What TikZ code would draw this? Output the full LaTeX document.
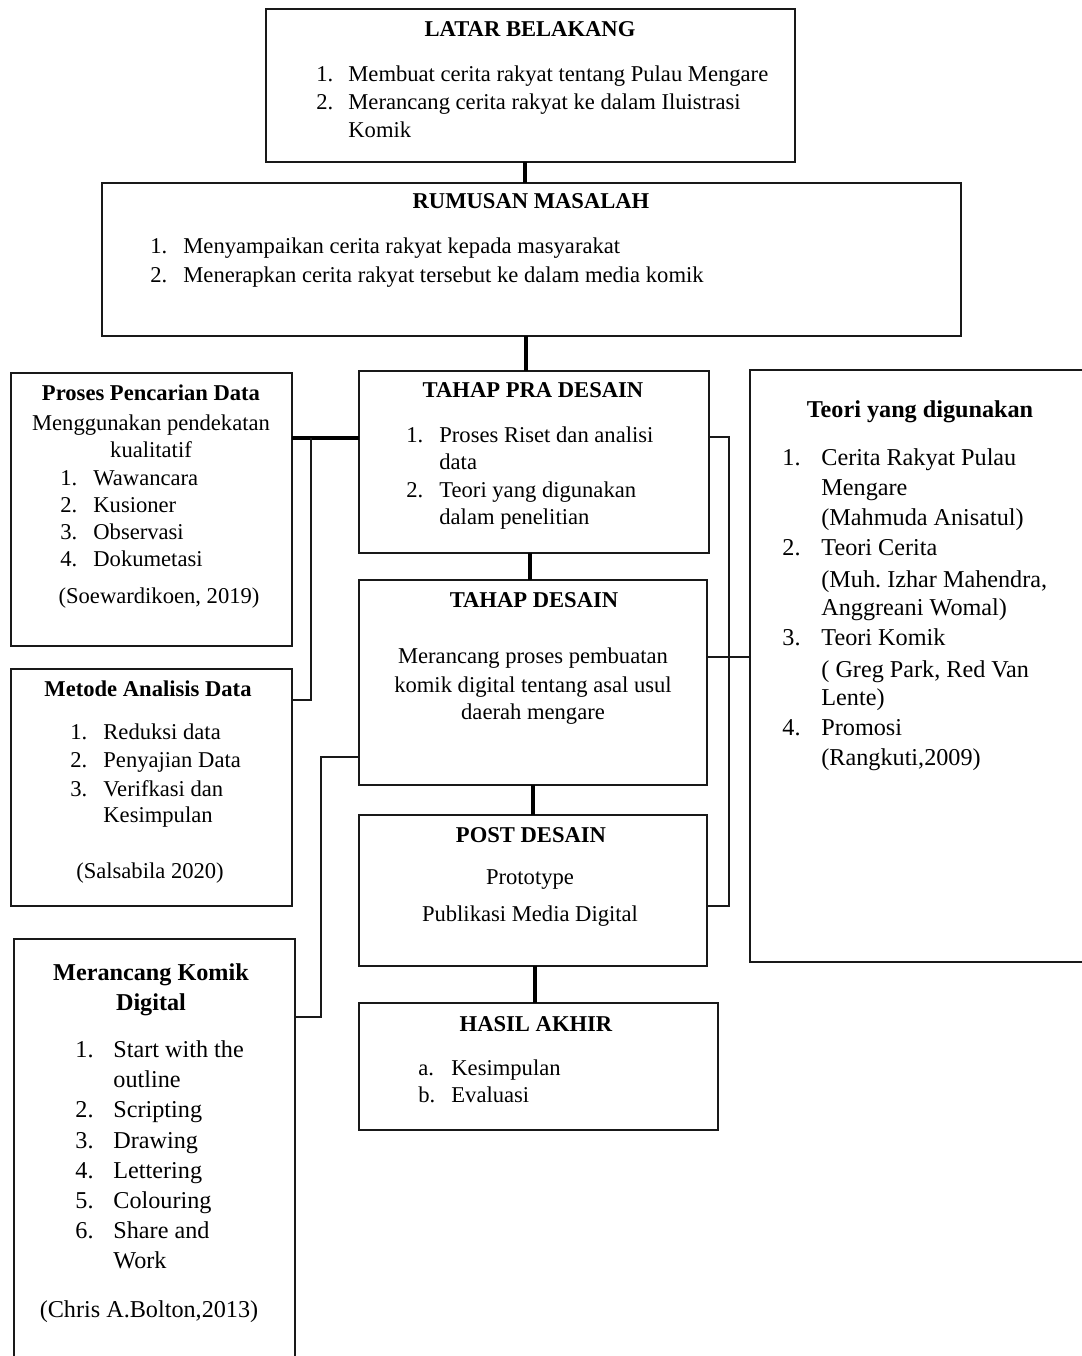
\documentclass[tikz,border=0pt]{standalone}
\usepackage{fontspec}
\setmainfont{Liberation Serif}
\usetikzlibrary{calc}
\frenchspacing
\newcommand\fa{\fontsize{11.3}{13.5}\selectfont}
\newcommand\fb{\fontsize{12.1}{14.5}\selectfont}
\newcommand\drawbox[5]{\node[box, minimum width={(#4-#2)*0.5pt}, minimum height={(#5-#3)*0.5pt}] (#1) at ({(#2+#4)/2},{(#3+#5)/2}) {};}
\begin{document}
\begin{tikzpicture}[x=0.5pt, y=-0.5pt,
  box/.style={draw=black!90, line width=1pt, rectangle, inner sep=0pt, outer sep=0pt},
  conn/.style={draw=black!90, line width=1pt},
  thickconn/.style={draw=black, line width=1.6pt},
  tl/.style={anchor=base west, inner sep=0pt, font=\fa},
  tc/.style={anchor=base, inner sep=0pt, font=\fa},
  th/.style={anchor=base, inner sep=0pt, font=\fa\bfseries},
  tlb/.style={anchor=base west, inner sep=0pt, font=\fb},
  tcb/.style={anchor=base, inner sep=0pt, font=\fb},
  thb/.style={anchor=base, inner sep=0pt, font=\fb\bfseries}]

\useasboundingbox[fill=white] (0,0) rectangle (1082,1356);

% boxes
\drawbox{latar}{266}{9}{795}{162}
\drawbox{rumusan}{102}{183}{961}{336}
\drawbox{proses}{11}{373}{292}{646}
\drawbox{pra}{359}{371}{709}{553}
\drawbox{teori}{750}{370}{1100}{962}
\drawbox{desain}{359}{580}{707}{785}
\drawbox{metode}{11}{669}{292}{906}
\drawbox{post}{359}{815}{707}{966}
\drawbox{merancang}{14}{939}{295}{1370}
\drawbox{hasil}{359}{1003}{718}{1130}

% connectors
\coordinate (xa) at (525,0);
\coordinate (xb) at (526,0);
\coordinate (xc) at (530,0);
\coordinate (xd) at (533,0);
\coordinate (xe) at (535,0);
\draw[thickconn] (latar.south -| xa) -- (rumusan.north -| xa);
\draw[thickconn] (rumusan.south -| xb) -- (pra.north -| xb);
\draw[thickconn] (pra.south -| xc) -- (desain.north -| xc);
\draw[thickconn] (desain.south -| xd) -- (post.north -| xd);
\draw[thickconn] (post.south -| xe) -- (hasil.north -| xe);

\coordinate (ja) at (311,438);
\coordinate (jb) at (311,700);
\draw[thickconn] (proses.east |- ja) -- (pra.west |- ja);
\draw[conn] (ja) -- (jb) -- (metode.east |- jb);

\coordinate (ra) at (729,437);
\coordinate (rb) at (729,906);
\coordinate (rc) at (729,657);
\draw[conn] (pra.east |- ra) -- (ra) -- (rb) -- (post.east |- rb);
\draw[conn] (desain.east |- rc) -- (teori.west |- rc);

\coordinate (la) at (321,757);
\coordinate (lb) at (321,1017);
\draw[conn] (desain.west |- la) -- (la) -- (lb) -- (merancang.east |- lb);

% LATAR BELAKANG
\node[th] (latar-t) at (530,36) {LATAR BELAKANG};
\node[tl] (latar-n1) at (316,81) {1.};
\node[tl] (latar-n2) at (316,109) {2.};
\foreach \y/\s [count=\i] in {81/{Membuat cerita rakyat tentang Pulau Mengare},
  109/{Merancang cerita rakyat ke dalam Iluistrasi}, 137/{Komik}}
  \node[tl] (latar-l\i) at (348,\y) {\s};

% RUMUSAN MASALAH
\node[th] (rumusan-t) at (531,208) {RUMUSAN MASALAH};
\node[tl] (rumusan-n1) at (150,253) {1.};
\node[tl] (rumusan-n2) at (150,282) {2.};
\node[tl] (rumusan-l1) at (183,253) {Menyampaikan cerita rakyat kepada masyarakat};
\node[tl] (rumusan-l2) at (183,282) {Menerapkan cerita rakyat tersebut ke dalam media komik};

% Proses Pencarian Data
\node[th] (proses-t) at (151,400) {Proses Pencarian Data};
\node[tc] (proses-s1) at (151,430) {Menggunakan pendekatan};
\node[tc] (proses-s2) at (151,457) {kualitatif};
\foreach \y/\s [count=\i] in {485/{Wawancara}, 512/{Kusioner}, 539/{Observasi}, 566/{Dokumetasi}}{
  \node[tl] (proses-n\i) at (60,\y) {\i.};
  \node[tl] (proses-l\i) at (93,\y) {\s};
}
\node[tc] (proses-c) at (159,603) {(Soewardikoen, 2019)};

% TAHAP PRA DESAIN
\node[th] (pra-t) at (533,397) {TAHAP PRA DESAIN};
\node[tl] (pra-n1) at (406,442) {1.};
\node[tl] (pra-n2) at (406,497) {2.};
\foreach \y/\s [count=\i] in {442/{Proses Riset dan analisi}, 469/{data},
  497/{Teori yang digunakan}, 524/{dalam penelitian}}
  \node[tl] (pra-l\i) at (439,\y) {\s};

% TAHAP DESAIN
\node[th] (desain-t) at (534,607) {TAHAP DESAIN};
\foreach \y/\s [count=\i] in {663/{Merancang proses pembuatan},
  692/{komik digital tentang asal usul}, 719/{daerah mengare}}
  \node[tc] (desain-l\i) at (533,\y) {\s};

% Metode Analisis Data
\node[th] (metode-t) at (148,696) {Metode Analisis Data};
\node[tl] (metode-n1) at (70,739) {1.};
\node[tl] (metode-n2) at (70,767) {2.};
\node[tl] (metode-n3) at (70,796) {3.};
\foreach \y/\s [count=\i] in {739/{Reduksi data}, 767/{Penyajian Data},
  796/{Verifkasi dan}, 822/{Kesimpulan}}
  \node[tl] (metode-l\i) at (103,\y) {\s};
\node[tc] (metode-c) at (150,878) {(Salsabila 2020)};

% POST DESAIN
\node[th] (post-t) at (531,842) {POST DESAIN};
\node[tc] (post-l1) at (530,884) {Prototype};
\node[tc] (post-l2) at (530,921) {Publikasi Media Digital};

% HASIL AKHIR
\node[th] (hasil-t) at (536,1031) {HASIL AKHIR};
\node[tl] (hasil-n1) at (418,1075) {a.};
\node[tl] (hasil-n2) at (418,1102) {b.};
\node[tl] (hasil-l1) at (451,1075) {Kesimpulan};
\node[tl] (hasil-l2) at (451,1102) {Evaluasi};

% Teori yang digunakan
\node[thb] (teori-t) at (920,417) {Teori yang digunakan};
\node[tlb] (teori-n1) at (782,465) {1.};
\node[tlb] (teori-n2) at (782,555) {2.};
\node[tlb] (teori-n3) at (782,645) {3.};
\node[tlb] (teori-n4) at (782,735) {4.};
\foreach \y/\s [count=\i] in {465/{Cerita Rakyat Pulau}, 495/{Mengare},
  525/{(Mahmuda Anisatul)}, 555/{Teori Cerita}, 587/{(Muh. Izhar Mahendra,},
  615/{Anggreani Womal)}, 645/{Teori Komik}, 677/{( Greg Park, Red Van},
  705/{Lente)}, 735/{Promosi}, 765/{(Rangkuti,2009)}}
  \node[tlb] (teori-l\i) at (821,\y) {\s};

% Merancang Komik Digital
\node[thb] (merancang-t1) at (151,980) {Merancang Komik};
\node[thb] (merancang-t2) at (151,1010) {Digital};
\node[tlb] (merancang-n1) at (75,1057) {1.};
\node[tlb] (merancang-n2) at (75,1117) {2.};
\node[tlb] (merancang-n3) at (75,1148) {3.};
\node[tlb] (merancang-n4) at (75,1178) {4.};
\node[tlb] (merancang-n5) at (75,1208) {5.};
\node[tlb] (merancang-n6) at (75,1238) {6.};
\foreach \y/\s [count=\i] in {1057/{Start with the}, 1087/{outline},
  1117/{Scripting}, 1148/{Drawing}, 1178/{Lettering}, 1208/{Colouring},
  1238/{Share and}, 1268/{Work}}
  \node[tlb] (merancang-l\i) at (113,\y) {\s};
\node[tcb] (merancang-c) at (149,1317) {(Chris A.Bolton,2013)};

\end{tikzpicture}
\end{document}
